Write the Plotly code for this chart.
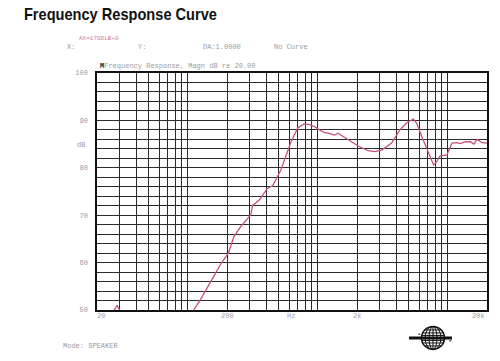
import math
import plotly.graph_objects as go

# ---- data ----
freq_hz = [20, 24, 26.5, 28.5, 30.5, 33, 40, 50, 60, 80, 100, 111, 125, 150, 180,
           205, 226, 255, 305, 314, 354, 410, 449, 520, 622, 700, 789, 862, 942,
           1029, 1125, 1194, 1343, 1428, 1706, 2041, 2439, 2742, 3090, 3690, 4277,
           4820, 5433, 5760, 6297, 7095, 7760, 8225, 8730, 9830, 10750, 11750,
           12460, 13620, 14890, 15820, 16760, 18330, 20000]
magn_db = [40, 46, 49.5, 51, 49.5, 46, 42, 41, 41, 44, 48.2, 50.1, 52.2, 56.0, 59.8,
           62.0, 65.5, 67.6, 70.1, 72.0, 73.2, 75.7, 76.2, 79.6, 85.5, 88.4, 89.3, 89.1, 88.7,
           88.0, 87.4, 87.3, 86.9, 87.3, 86.0, 84.6, 83.6, 83.4, 83.7, 85.2, 88.0,
           89.5, 90.3, 89.4, 86.6, 83.1, 80.6, 81.3, 82.5, 82.7, 85.2, 85.3,
           85.1, 85.5, 85.5, 85.0, 86.0, 85.3, 85.2]

grid_freqs = [m * d for d in (10, 100, 1000, 10000) for m in range(1, 10)]
grid_freqs = [f for f in grid_freqs if 20 <= f <= 20000] + [20000]
x_tick_labels = {20: "20", 200: "200", 2000: "2k", 20000: "20k"}
y_grid = list(range(50, 101, 2))
y_tick_labels = {v: str(v) for v in (50, 60, 70, 80, 90, 100)}

# ---- layout geometry (pixels) ----
W, H = 500, 361
L, R, T, B = 97, 487, 73, 310.5

def px(x):
    return (x - L) / (R - L)

def py(y):
    return (B - y) / (B - T)

mono = "Liberation Mono, Courier New, monospace"
grey = "#9a9a9a"

fig = go.Figure()
fig.add_trace(go.Scatter(x=freq_hz, y=magn_db, mode="lines",
                         line=dict(color="#c9507c", width=1.3),
                         showlegend=False, hoverinfo="skip"))

fig.update_layout(
    width=W, height=H,
    margin=dict(l=L, r=W - R, t=T, b=H - B, pad=0),
    paper_bgcolor="white", plot_bgcolor="white",
    showlegend=False,
    xaxis=dict(type="log", range=[math.log10(20), math.log10(20000)],
               tickvals=grid_freqs, showticklabels=False, automargin=False,
               showgrid=True, gridcolor="#2a2a2a", gridwidth=1,
               showline=True, linecolor="#111", linewidth=1.5, mirror=True,
               zeroline=False, ticks=""),
    yaxis=dict(range=[50, 100], tickvals=y_grid, automargin=False,
               ticktext=[y_tick_labels.get(v, "") for v in y_grid],
               tickfont=dict(family=mono, size=7, color=grey),
               showgrid=True, gridcolor="#2a2a2a", gridwidth=1,
               showline=True, linecolor="#111", linewidth=1.5, mirror=True,
               zeroline=False, ticks="", ticklabelstandoff=6),
)

ann = []
def text(x, y, s, size=7, color=grey, family=mono, xanchor="left", weight="normal"):
    ann.append(dict(x=px(x), y=py(y), xref="paper", yref="paper", text=s,
                    showarrow=False, xanchor=xanchor, yanchor="middle",
                    font=dict(size=size, color=color, family=family, weight=weight)))

text(6, 14, "Frequency Response Curve", size=17, color="#111",
     family="Liberation Sans Narrow, Arial Narrow, Liberation Sans, Arial, sans-serif",
     weight="bold")
text(77, 38, "AX=170DLB+0", size=6, color="#d27a98")
text(65, 47, "X:")
text(136, 47, "Y:")
text(201, 47, "DA:1.0000")
text(272, 47, "No Curve")
text(98, 66, "<b><span style='color:#222'>M</span></b>Frequency Response, Magn dB re 20.00")
text(75, 145, "dB")
for f, s in x_tick_labels.items():
    xx = L + (R - L) * (math.log10(f) - math.log10(20)) / 3
    xx = min(max(xx, 101), 478)
    text(xx, 317, s, xanchor="center")
text(291, 317, "Hz", xanchor="center")
text(61, 347, "Mode: SPEAKER")

shapes = []
cx, cy, r = 433, 338.5, 11.5
def rect(x0, y0, x1, y1, **kw):
    shapes.append(dict(type="rect", xref="paper", yref="paper",
                       x0=px(x0), x1=px(x1), y0=py(y0), y1=py(y1), **kw))
def circ(x0, y0, x1, y1, **kw):
    shapes.append(dict(type="circle", xref="paper", yref="paper",
                       x0=px(x0), x1=px(x1), y0=py(y0), y1=py(y1), **kw))
def seg(x0, y0, x1, y1, w=1, c="#111"):
    shapes.append(dict(type="line", xref="paper", yref="paper",
                       x0=px(x0), x1=px(x1), y0=py(y0), y1=py(y1),
                       line=dict(color=c, width=w)))

circ(cx - r, cy - r, cx + r, cy + r, line=dict(color="#111", width=1.5), fillcolor="white")
for k in (4, 8):
    circ(cx - k, cy - r, cx + k, cy + r, line=dict(color="#111", width=1))
seg(cx, cy - r, cx, cy + r)
for dy in (-8, -5, -2.5, 2.5, 5, 8):
    hw = math.sqrt(max(r * r - dy * dy, 0))
    seg(cx - hw, cy + dy, cx + hw, cy + dy)
rect(409, cy - 1.5, 452, cy + 1.5, line=dict(width=0), fillcolor="#111")
text(416, cy - 3.5, "A", size=4, color="#111")
text(447, cy + 3.5, "R", size=4, color="#111")

fig.update_layout(annotations=ann, shapes=shapes)

post = """
document.body.style.margin = '0';
document.body.style.padding = '0';
document.querySelectorAll('text.annotation-text').forEach(function (t) {
  if (t.textContent === 'Frequency Response Curve') {
    t.setAttribute('textLength', '193');
    t.setAttribute('lengthAdjust', 'spacingAndGlyphs');
  }
});
"""
fig.write_html("out.html", post_script=post, config={"displayModeBar": False})
